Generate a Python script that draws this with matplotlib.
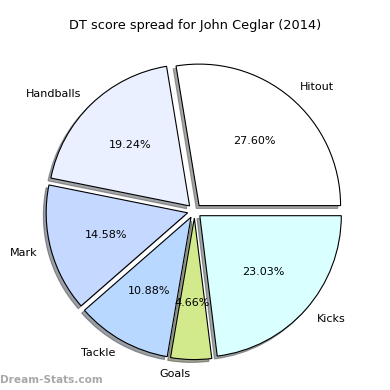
import matplotlib
matplotlib.use('Agg')
import matplotlib.pyplot as plt

# данные
labels = ['Hitout', 'Handballs', 'Mark', 'Tackle', 'Goals', 'Kicks']
vals = [27.60, 19.24, 14.58, 10.88, 4.66, 23.03]
colors = ['#ffffff', '#eaf0ff', '#c5d8ff', '#b8d8ff', '#d2ea8c', '#d9ffff']
explode = [0.05] * len(vals)

fig = plt.figure(figsize=(3.9, 3.9), dpi=100)
ax = fig.add_axes([0, 0, 1, 1])
ax.pie(vals, labels=labels, colors=colors, explode=explode, autopct='%.2f%%',
       shadow={'ox': -0.0144, 'oy': -0.0144}, startangle=0, radius=1,
       wedgeprops={'linewidth': 0.8, 'edgecolor': 'black'},
       textprops={'fontsize': 8})
ax.set_aspect('equal')
# центр круга ~ (194, 211) px, радиус ~141.5 px
s = 141.5
cx, cy = 194.5, 211.0
ax.set_xlim(-cx / s, (390 - cx) / s)
ax.set_ylim(-(390 - cy) / s, cy / s)
ax.axis('off')

fig.text(0.5, 1 - 25 / 390, 'DT score spread for John Ceglar (2014)',
         ha='center', va='center', fontsize=9.3)
fig.text(0.0, 1 - 380 / 390, 'Dream-Stats.com', ha='left', va='center',
         fontsize=7.6, fontweight='bold', color='#a8a8a8')

plt.savefig('out.png', dpi=100)
